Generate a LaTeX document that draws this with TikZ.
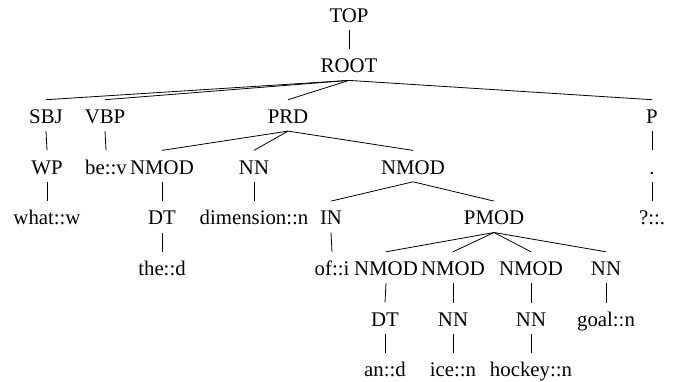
\documentclass[tikz,border=0pt]{standalone}
\usepackage{fontspec}
\setmainfont{Liberation Serif}
\begin{document}
\begin{tikzpicture}[x=1pt,y=1pt,
  tn/.style={anchor=base,inner xsep=0pt,inner ysep=0pt,text height=23.5pt,text depth=7.5pt,font=\fontsize{20.8}{24}\selectfont},
  br/.style={line width=0.8pt}]
\useasboundingbox (0,0) rectangle (676,-381);
\def\lv#1{-(22+50.7*#1)}
% level 0
\node[tn] (top) at (349,{\lv0}) {TOP};
% level 1
\node[tn] (root) at (349,{\lv1}) {ROOT};
% level 2
\node[tn] (sbj) at (46,{\lv2}) {SBJ};
\node[tn] (vbp) at (105,{\lv2}) {VBP};
\node[tn] (prd) at (288,{\lv2}) {PRD};
\node[tn] (p) at (652,{\lv2}) {P};
% level 3
\node[tn] (wp) at (47,{\lv3}) {WP};
\node[tn] (be) at (106,{\lv3}) {be::v};
\node[tn] (nmoda) at (162,{\lv3}) {NMOD};
\node[tn] (nna) at (254,{\lv3}) {NN};
\node[tn] (nmodb) at (413,{\lv3}) {NMOD};
\node[tn] (dot) at (652,{\lv3}) {.};
% level 4
\node[tn] (what) at (47,{\lv4}) {what::w};
\node[tn] (dta) at (162,{\lv4}) {DT};
\node[tn] (dim) at (254,{\lv4}) {dimension::n};
\node[tn] (in) at (331,{\lv4}) {IN};
\node[tn] (pmod) at (494,{\lv4}) {PMOD};
\node[tn] (q) at (652,{\lv4}) {?::.};
% level 5
\node[tn] (the) at (162,{\lv5}) {the::d};
\node[tn] (of) at (332,{\lv5}) {of::i};
\node[tn] (nmodc) at (386,{\lv5}) {NMOD};
\node[tn] (nmodd) at (453,{\lv5}) {NMOD};
\node[tn] (nmode) at (531,{\lv5}) {NMOD};
\node[tn] (nnb) at (606,{\lv5}) {NN};
% level 6
\node[tn] (dtb) at (385,{\lv6}) {DT};
\node[tn] (nnc) at (453,{\lv6}) {NN};
\node[tn] (nnd) at (531,{\lv6}) {NN};
\node[tn] (goal) at (606,{\lv6}) {goal::n};
% level 7
\node[tn] (an) at (385,{\lv7}) {an::d};
\node[tn] (ice) at (453,{\lv7}) {ice::n};
\node[tn] (hockey) at (531,{\lv7}) {hockey::n};
% edges
\foreach \a/\b in {top/root,root/sbj,root/vbp,root/prd,root/p,sbj/wp,vbp/be,
  prd/nmoda,prd/nna,prd/nmodb,p/dot,wp/what,nmoda/dta,nna/dim,nmodb/in,nmodb/pmod,
  dot/q,dta/the,in/of,pmod/nmodc,pmod/nmodd,pmod/nmode,pmod/nnb,nmodc/dtb,
  nmodd/nnc,nmode/nnd,nnb/goal,dtb/an,nnc/ice,nnd/hockey}
  \draw[br] (\a.south) -- (\b.north);
\end{tikzpicture}
\end{document}
